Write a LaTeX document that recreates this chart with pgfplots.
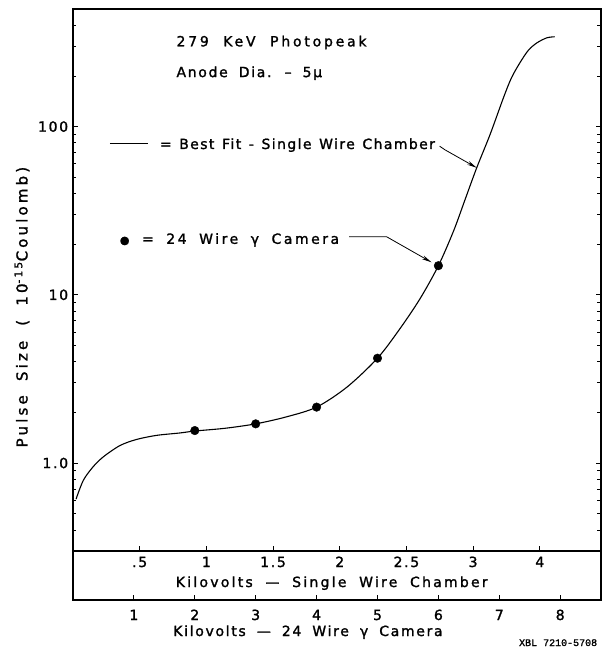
\documentclass[border=0pt]{standalone}
\usepackage{fontspec}
\setmainfont{DejaVu Sans}[LetterSpace=12, WordSpace=1.8, FakeBold=1.5]
\newfontfamily\fsingle{DejaVu Sans}[LetterSpace=16, WordSpace=1.9, FakeBold=1.5]
\newfontfamily\fphoto{DejaVu Sans}[LetterSpace=20, WordSpace=2.0, FakeBold=1.5]
\newfontfamily\ffit{DejaVu Sans}[LetterSpace=10, WordSpace=1.3, FakeBold=1.5]
\newfontfamily\fcam{DejaVu Sans}[LetterSpace=18, WordSpace=1.8, FakeBold=1.5]
\newfontfamily\fylab{DejaVu Sans}[LetterSpace=21, WordSpace=1.8, FakeBold=1.5]
\newfontfamily\xblfont{Liberation Mono}[FakeBold=1.5]
\usepackage{pgfplots}
\usepackage{pgfplotstable}
\pgfplotsset{compat=1.18}
\usetikzlibrary{arrows.meta}

% 24 wire gamma camera (x = kV, camera scale)
\pgfplotstableread{
x y
2 1.56
3 1.71
4 2.15
5 4.2
6 14.9
}\cameradata

% best fit, single wire chamber (read off in camera kV units)
\pgfplotstableread{
x y
0.05 0.61
0.17 0.79
0.33 0.95
0.50 1.09
0.77 1.27
1.04 1.38
1.37 1.46
1.76 1.51
2.00 1.55
2.50 1.61
3.00 1.71
3.50 1.88
4.00 2.15
4.50 2.83
5.00 4.2
5.37 6.3
5.70 9.5
6.00 14.9
6.25 24
6.44 37
6.63 57
6.85 90
7.07 149
7.20 195
7.34 240
7.48 285
7.62 315
7.78 337
7.91 342
}\fitdata

\begin{document}
\fontsize{14}{17}\selectfont
\begin{tikzpicture}
\pgfplotsset{/pgf/number format/assume math mode=true}
\begin{axis}[
  name=main, at={(0,0)}, anchor=south west,
  scale only axis, width=528pt, height=542pt,
  xmin=0, xmax=8.67,
  ymode=log, ymin=0.3, ymax=500,
  axis line style={line width=1.1pt},
  tick align=inside, xtick pos=left, ytick pos=both,
  major tick length=5pt, minor tick length=3.5pt,
  tick style={line width=0.9pt, black},
  xtick={1.095,2.19,3.285,4.38,5.475,6.57,7.665},
  xticklabels={.5,1,1.5,2,2.5,3,4},
  xticklabel style={anchor=base, yshift=-16pt},
  xlabel={\fsingle Kilovolts — Single Wire Chamber},
  xlabel style={at={(axis description cs:0.49,0)}, anchor=base, yshift=-36pt},
  ytick={1,10,100},
  yticklabels={1.0,10,100},
  minor ytick={0.3,0.4,0.5,0.6,0.7,0.8,0.9,2,3,4,5,6,7,8,9,20,30,40,50,60,70,80,90,200,300,400},
  clip=false,
]
\addplot[black, line width=1.1pt, smooth, tension=0.5] table {\fitdata};
\addplot[only marks, mark=*, mark size=4.3pt, black] table {\cameradata};

\node[anchor=base west] at (axis cs:1.62,300) {\fphoto 279 KeV Photopeak};
\node[anchor=base west] at (axis cs:1.62,197) {Anode Dia. – 5μ};

\draw[line width=1.1pt] (axis cs:0.607,78.9) -- (axis cs:1.231,78.9);
\node[anchor=base west] at (axis cs:1.347,73.6) {\ffit = Best Fit - Single Wire Chamber};
\draw[line width=0.8pt, -{Stealth[length=10pt,width=4pt]}]
  (axis cs:6.02,76.5) -- (axis cs:6.11,72.7) -- (axis cs:6.63,56.9);

\node[anchor=base west] at (axis cs:0.69,20.1)
  {\fcam{\fontsize{11}{11}\selectfont ●} = 24 Wire γ Camera};
\draw[line width=0.8pt, -{Stealth[length=10pt,width=4pt]}]
  (axis cs:4.535,22.15) -- (axis cs:5.149,22.15) -- (axis cs:5.888,15.6);

\node[rotate=90, anchor=center] at ([xshift=-51pt]rel axis cs:0,0.45)
  {\fontsize{15}{17}\selectfont\fylab Pulse Size\quad( 10\textsuperscript{-15}Coulomb)};
\end{axis}

\begin{axis}[
  at={(0,0)}, anchor=north west,
  scale only axis, width=528pt, height=49pt,
  xmin=0, xmax=8.67, ymin=0, ymax=1,
  ytick=\empty,
  axis line style={line width=1.1pt},
  tick align=inside, xtick pos=left,
  major tick length=5pt,
  tick style={line width=0.9pt, black},
  xtick={1,2,3,4,5,6,7,8},
  xticklabels={1,2,3,4,5,6,7,8},
  xticklabel style={anchor=base, yshift=-20pt},
  xlabel={Kilovolts — 24 Wire γ Camera},
  xlabel style={at={(axis description cs:0.445,0)}, anchor=base, yshift=-36pt},
  clip=false,
]
\node[anchor=base east, font=\xblfont\fontsize{10}{10}\selectfont]
  at ([xshift=1pt,yshift=-46pt]rel axis cs:1,0) {XBL 7210-5708};
\end{axis}

\pgfresetboundingbox
\path[use as bounding box] (-73pt,-98pt) rectangle (533pt,551pt);
\end{tikzpicture}
\end{document}
